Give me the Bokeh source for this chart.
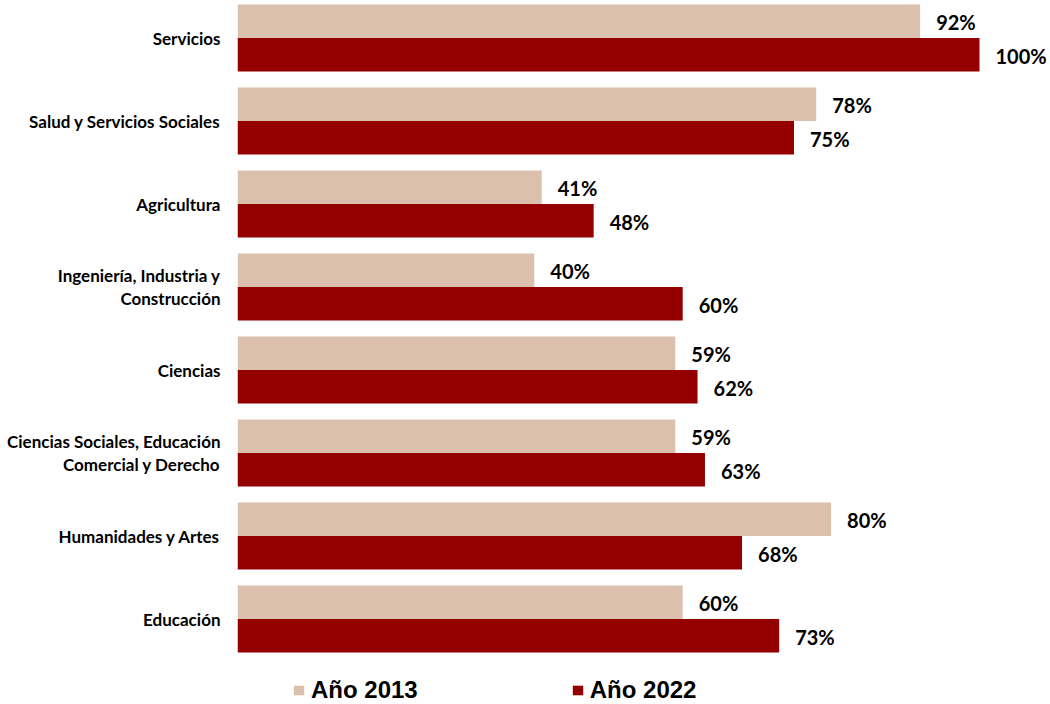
from bokeh.plotting import figure
from bokeh.models import Range1d, FixedTicker, Legend, LegendItem, ColumnDataSource
from bokeh.core.properties import value
from bokeh.embed import file_html
from bokeh.resources import INLINE

categories = [
    "Servicios",
    "Salud y Servicios Sociales",
    "Agricultura",
    "Ingeniería, Industria y\nConstrucción",
    "Ciencias",
    "Ciencias Sociales, Educación\nComercial y Derecho",
    "Humanidades y Artes",
    "Educación",
]
values_2013 = [92, 78, 41, 40, 59, 59, 80, 60]
values_2022 = [100, 75, 48, 60, 62, 63, 68, 73]
series_names = ["Año 2013", "Año 2022"]

COLOR_2013 = "#DCC0AE"
COLOR_2022 = "#940000"

W, H = 1050, 704
UNIT = 83.0          # px per category
FRAME_LEFT = 237     # px inside figure
first_center = 37.5
y_top = (0 - first_center) / UNIT
y_bottom = (H - first_center) / UNIT
frame_w = W - FRAME_LEFT
x_max = 100 * frame_w / 742.0

half = 0.202
bar_h = 0.404
idx = list(range(len(categories)))
pos_2013 = [i - half for i in idx]
pos_2022 = [i + half for i in idx]

src13 = ColumnDataSource(dict(y=pos_2013, v=values_2013, lab=[f"{v}%" for v in values_2013]))
src22 = ColumnDataSource(dict(y=pos_2022, v=values_2022, lab=[f"{v}%" for v in values_2022]))

p = figure(width=W, height=H, output_backend="svg", toolbar_location=None,
           x_range=Range1d(0, x_max), y_range=Range1d(y_bottom, y_top),
           min_border_left=FRAME_LEFT, min_border_right=0, min_border_top=0, min_border_bottom=0)
p.outline_line_color = None
p.xgrid.visible = False
p.ygrid.visible = False
p.xaxis.visible = False

r13 = p.hbar(y="y", right="v", left=0, height=bar_h, source=src13,
             fill_color=COLOR_2013, line_color=None)
r22 = p.hbar(y="y", right="v", left=0, height=bar_h, source=src22,
             fill_color=COLOR_2022, line_color=None)

for src in (src13, src22):
    p.text(x="v", y="y", text="lab", source=src, x_offset=16, y_offset=1,
           text_baseline="middle", text_align="left",
           text_font=value("Lato"), text_font_style="bold",
           text_font_size="20px", text_color="#000000")

ax = p.yaxis[0]
ax.ticker = FixedTicker(ticks=idx)
ax.major_label_overrides = {i: c for i, c in zip(idx, categories)}
ax.axis_line_color = None
ax.major_tick_line_color = None
ax.minor_tick_line_color = None
ax.major_tick_out = 0
ax.major_tick_in = 0
ax.major_label_standoff = 17
ax.major_label_text_font = "Lato"
ax.major_label_text_font_style = "bold"
ax.major_label_text_font_size = "17px"
ax.major_label_text_color = "#000000"
ax.major_label_text_line_height = 1.1

legend = Legend(items=[LegendItem(label=series_names[0], renderers=[r13]),
                       LegendItem(label=series_names[1], renderers=[r22])],
                orientation="horizontal", location=(55, 0),
                glyph_width=13, glyph_height=12, label_standoff=6, spacing=153,
                padding=0, margin=0, border_line_color=None, background_fill_alpha=0,
                label_text_font="Liberation Sans", label_text_font_style="bold",
                label_text_font_size="24px", label_text_color="#000000")
p.add_layout(legend, "center")

open("out.html", "w").write(file_html(p, INLINE))
